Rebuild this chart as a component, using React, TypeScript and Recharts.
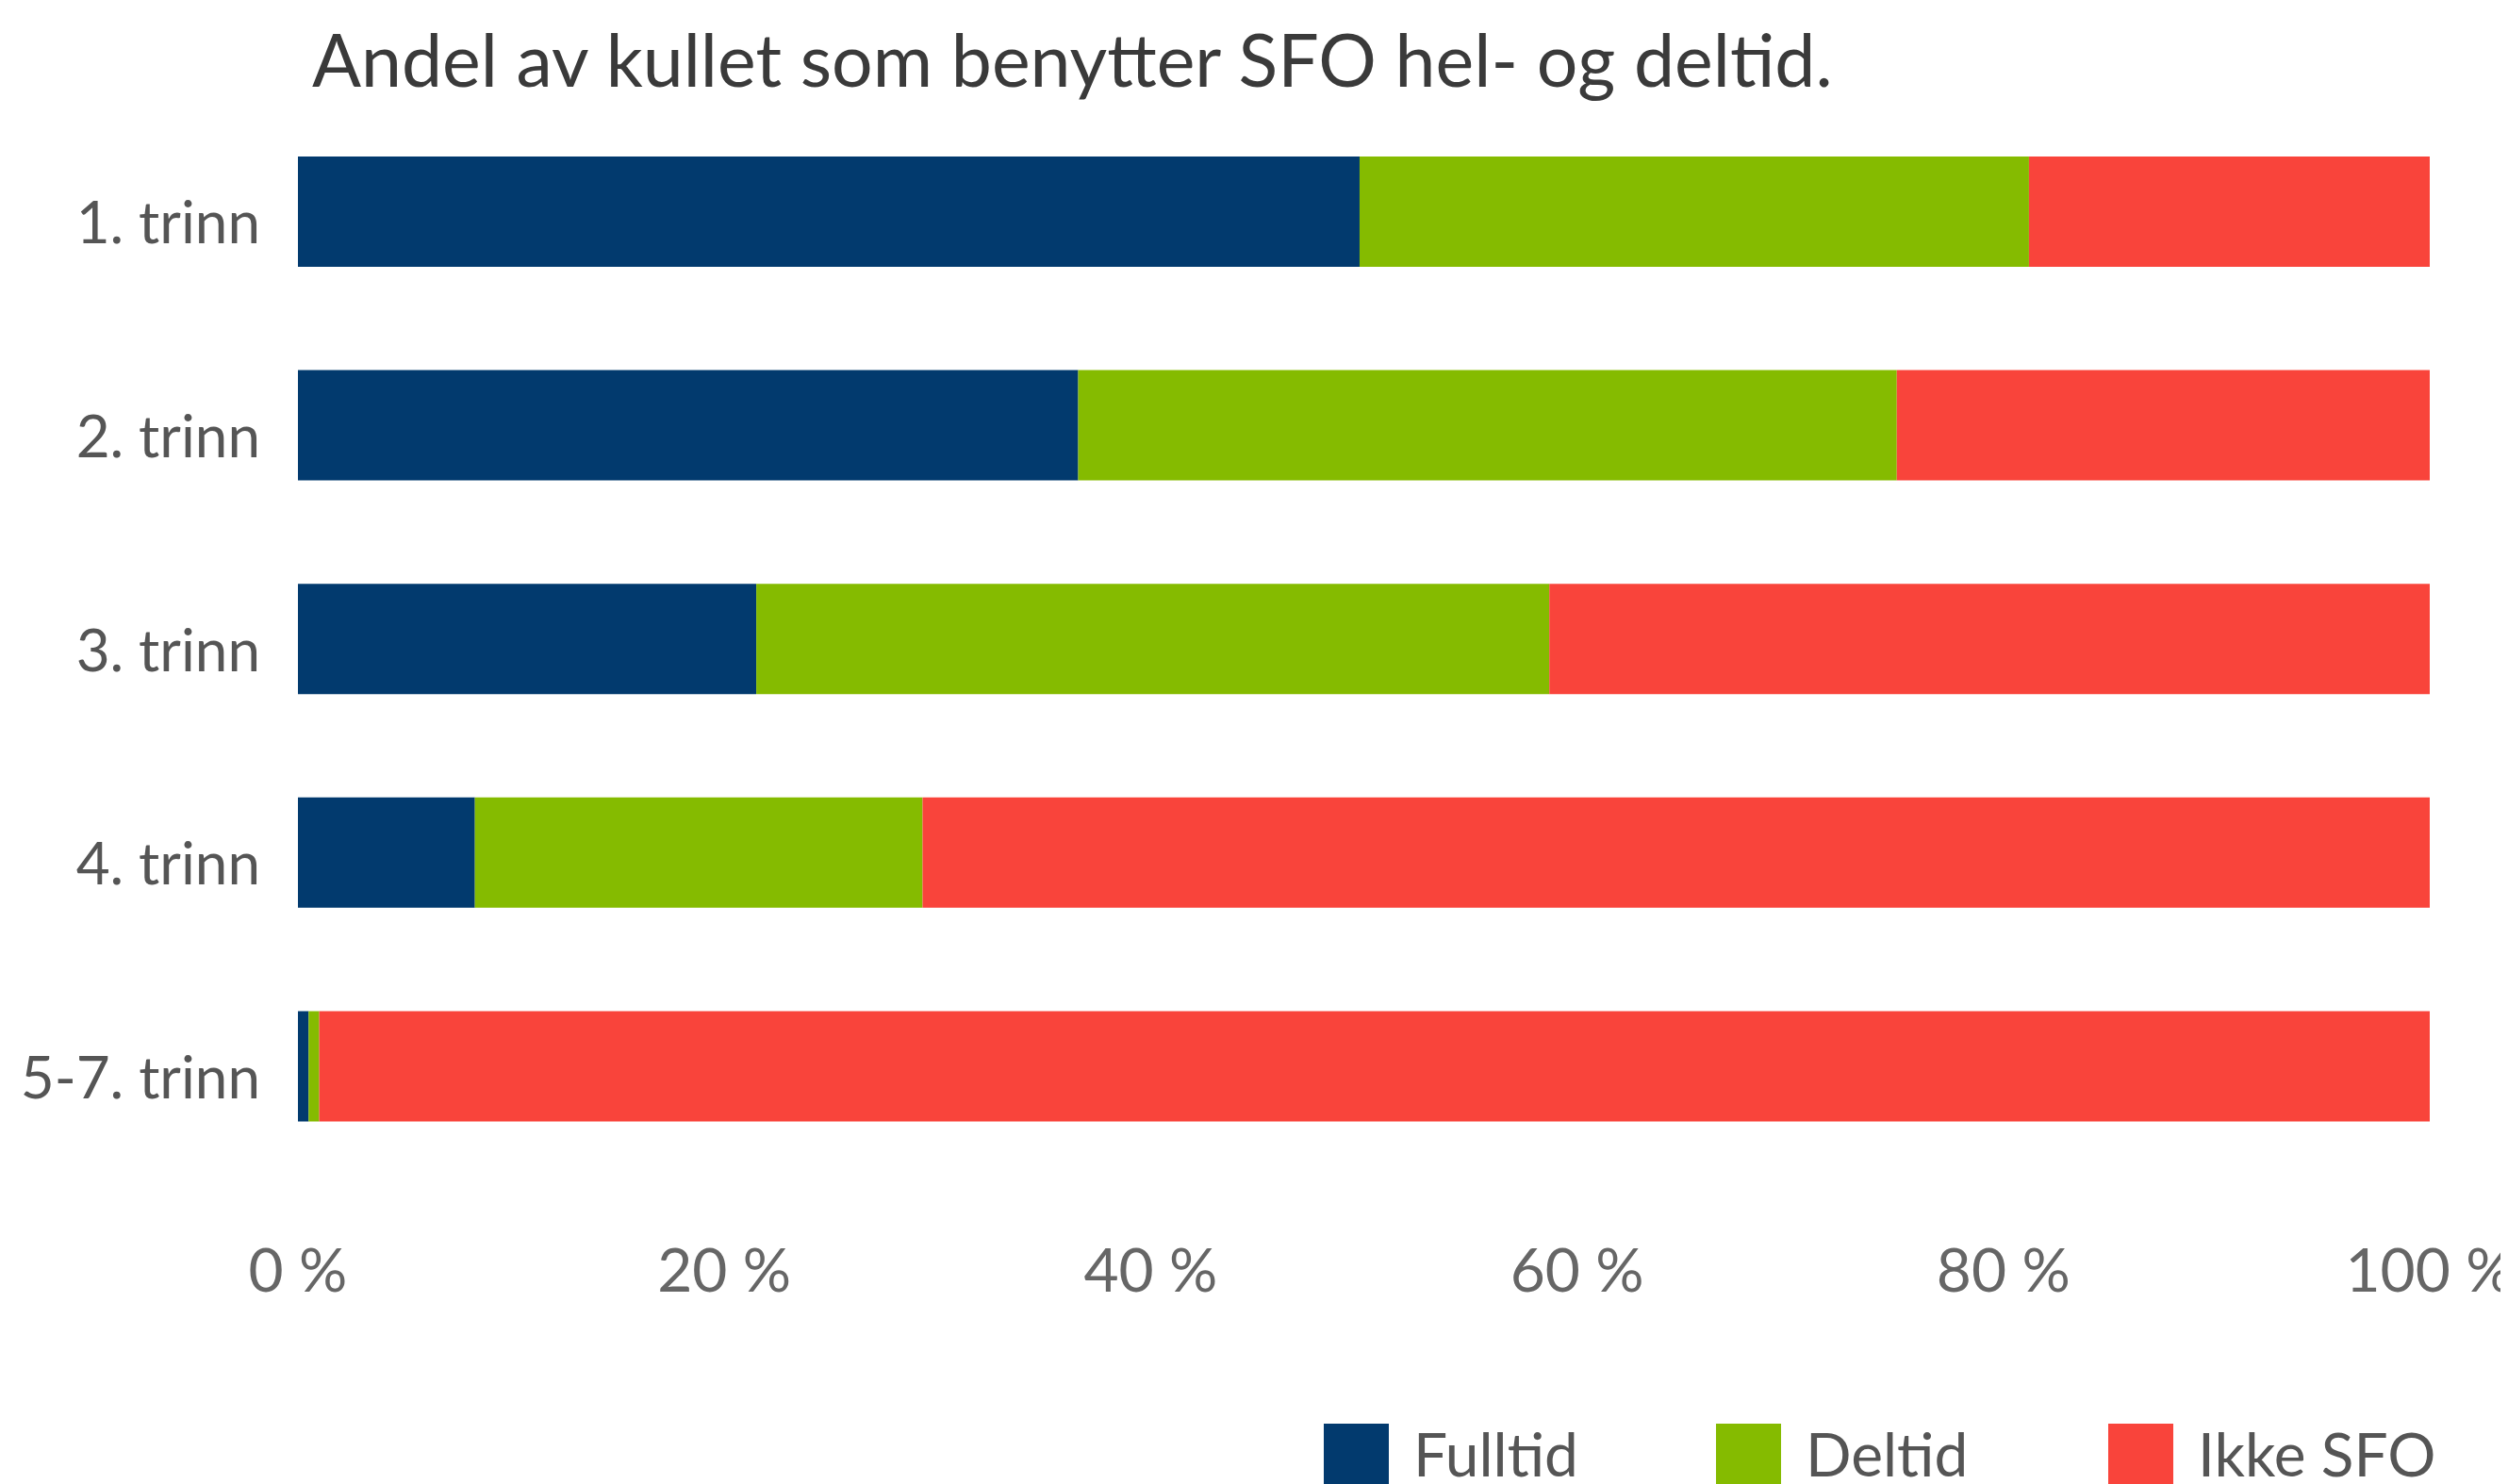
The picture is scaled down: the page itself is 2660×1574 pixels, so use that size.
import { BarChart, Bar, XAxis, YAxis, Legend } from 'recharts';

const categories = ['1. trinn', '2. trinn', '3. trinn', '4. trinn', '5-7. trinn'];
const fulltid = [49.8, 36.6, 21.5, 8.3, 0.5];
const deltid = [31.4, 38.4, 37.2, 21.0, 0.5];
const ikkeSfo = [18.8, 25.0, 41.3, 70.7, 99.0];
const xTicks = [0, 20, 40, 60, 80, 100];

const seriesNames = { fulltid: 'Fulltid', deltid: 'Deltid', ikkeSfo: 'Ikke SFO' };
const legendOrder = [seriesNames.fulltid, seriesNames.deltid, seriesNames.ikkeSfo];

const colors = {
  fulltid: '#023a6e',
  deltid: '#85bb00',
  ikkeSfo: '#f9443b',
};

const font = 'Lato, "Open Sans", sans-serif';

const data = categories.map((name, i) => ({
  name,
  fulltid: fulltid[i],
  deltid: deltid[i],
  ikkeSfo: ikkeSfo[i],
}));

function renderLegend(props: any) {
  const { payload = [] } = props;
  const items = [...payload].sort(
    (a: any, b: any) => legendOrder.indexOf(a.value) - legendOrder.indexOf(b.value)
  );
  return (
    <div style={{ display: 'flex', fontFamily: font }}>
      {items.map((entry: any) => (
        <div key={entry.value} style={{ display: 'flex', alignItems: 'flex-start', width: 416 }}>
          <div style={{ width: 69, height: 69, background: entry.color, flexShrink: 0 }} />
          <span style={{ marginLeft: 26, fontSize: 64, lineHeight: 1, color: '#555' }}>{entry.value}</span>
        </div>
      ))}
    </div>
  );
}

export default function App() {
  return (
    <div style={{ position: 'relative', width: 2644, height: 1566 }}>
      <div
        style={{
          position: 'absolute',
          left: 323,
          top: 16,
          fontFamily: font,
          fontSize: 77,
          lineHeight: 1,
          color: '#3a3a3a',
          whiteSpace: 'nowrap',
          zIndex: 1,
        }}
      >
        Andel av kullet som benytter SFO hel- og deltid.
      </div>
      <BarChart
        width={2644}
        height={1566}
        data={data}
        layout="vertical"
        margin={{ top: 103, right: 75, bottom: 300, left: 0 }}
      >
        <XAxis
          type="number"
          domain={[0, 100]}
          ticks={xTicks}
          tickFormatter={(v) => `${v} %`}
          axisLine={false}
          tickLine={false}
          tickMargin={75}
          height={30}
          interval={0}
          tick={{ fill: '#666', fontSize: 64, fontFamily: font }}
        />
        <YAxis
          type="category"
          dataKey="name"
          width={308}
          axisLine={false}
          tickLine={false}
          tickMargin={34}
          interval={0}
          tick={{ fill: '#555', fontSize: 62, fontFamily: font, dy: 12 }}
        />
        <Legend
          verticalAlign="middle"
          align="center"
          layout="horizontal"
          wrapperStyle={{ left: 1396, top: 1502, width: 1300 }}
          content={renderLegend}
        />
        <Bar dataKey="fulltid" name={seriesNames.fulltid} stackId="a" fill={colors.fulltid} barSize={117} isAnimationActive={false} />
        <Bar dataKey="deltid" name={seriesNames.deltid} stackId="a" fill={colors.deltid} barSize={117} isAnimationActive={false} />
        <Bar dataKey="ikkeSfo" name={seriesNames.ikkeSfo} stackId="a" fill={colors.ikkeSfo} barSize={117} isAnimationActive={false} />
      </BarChart>
    </div>
  );
}
